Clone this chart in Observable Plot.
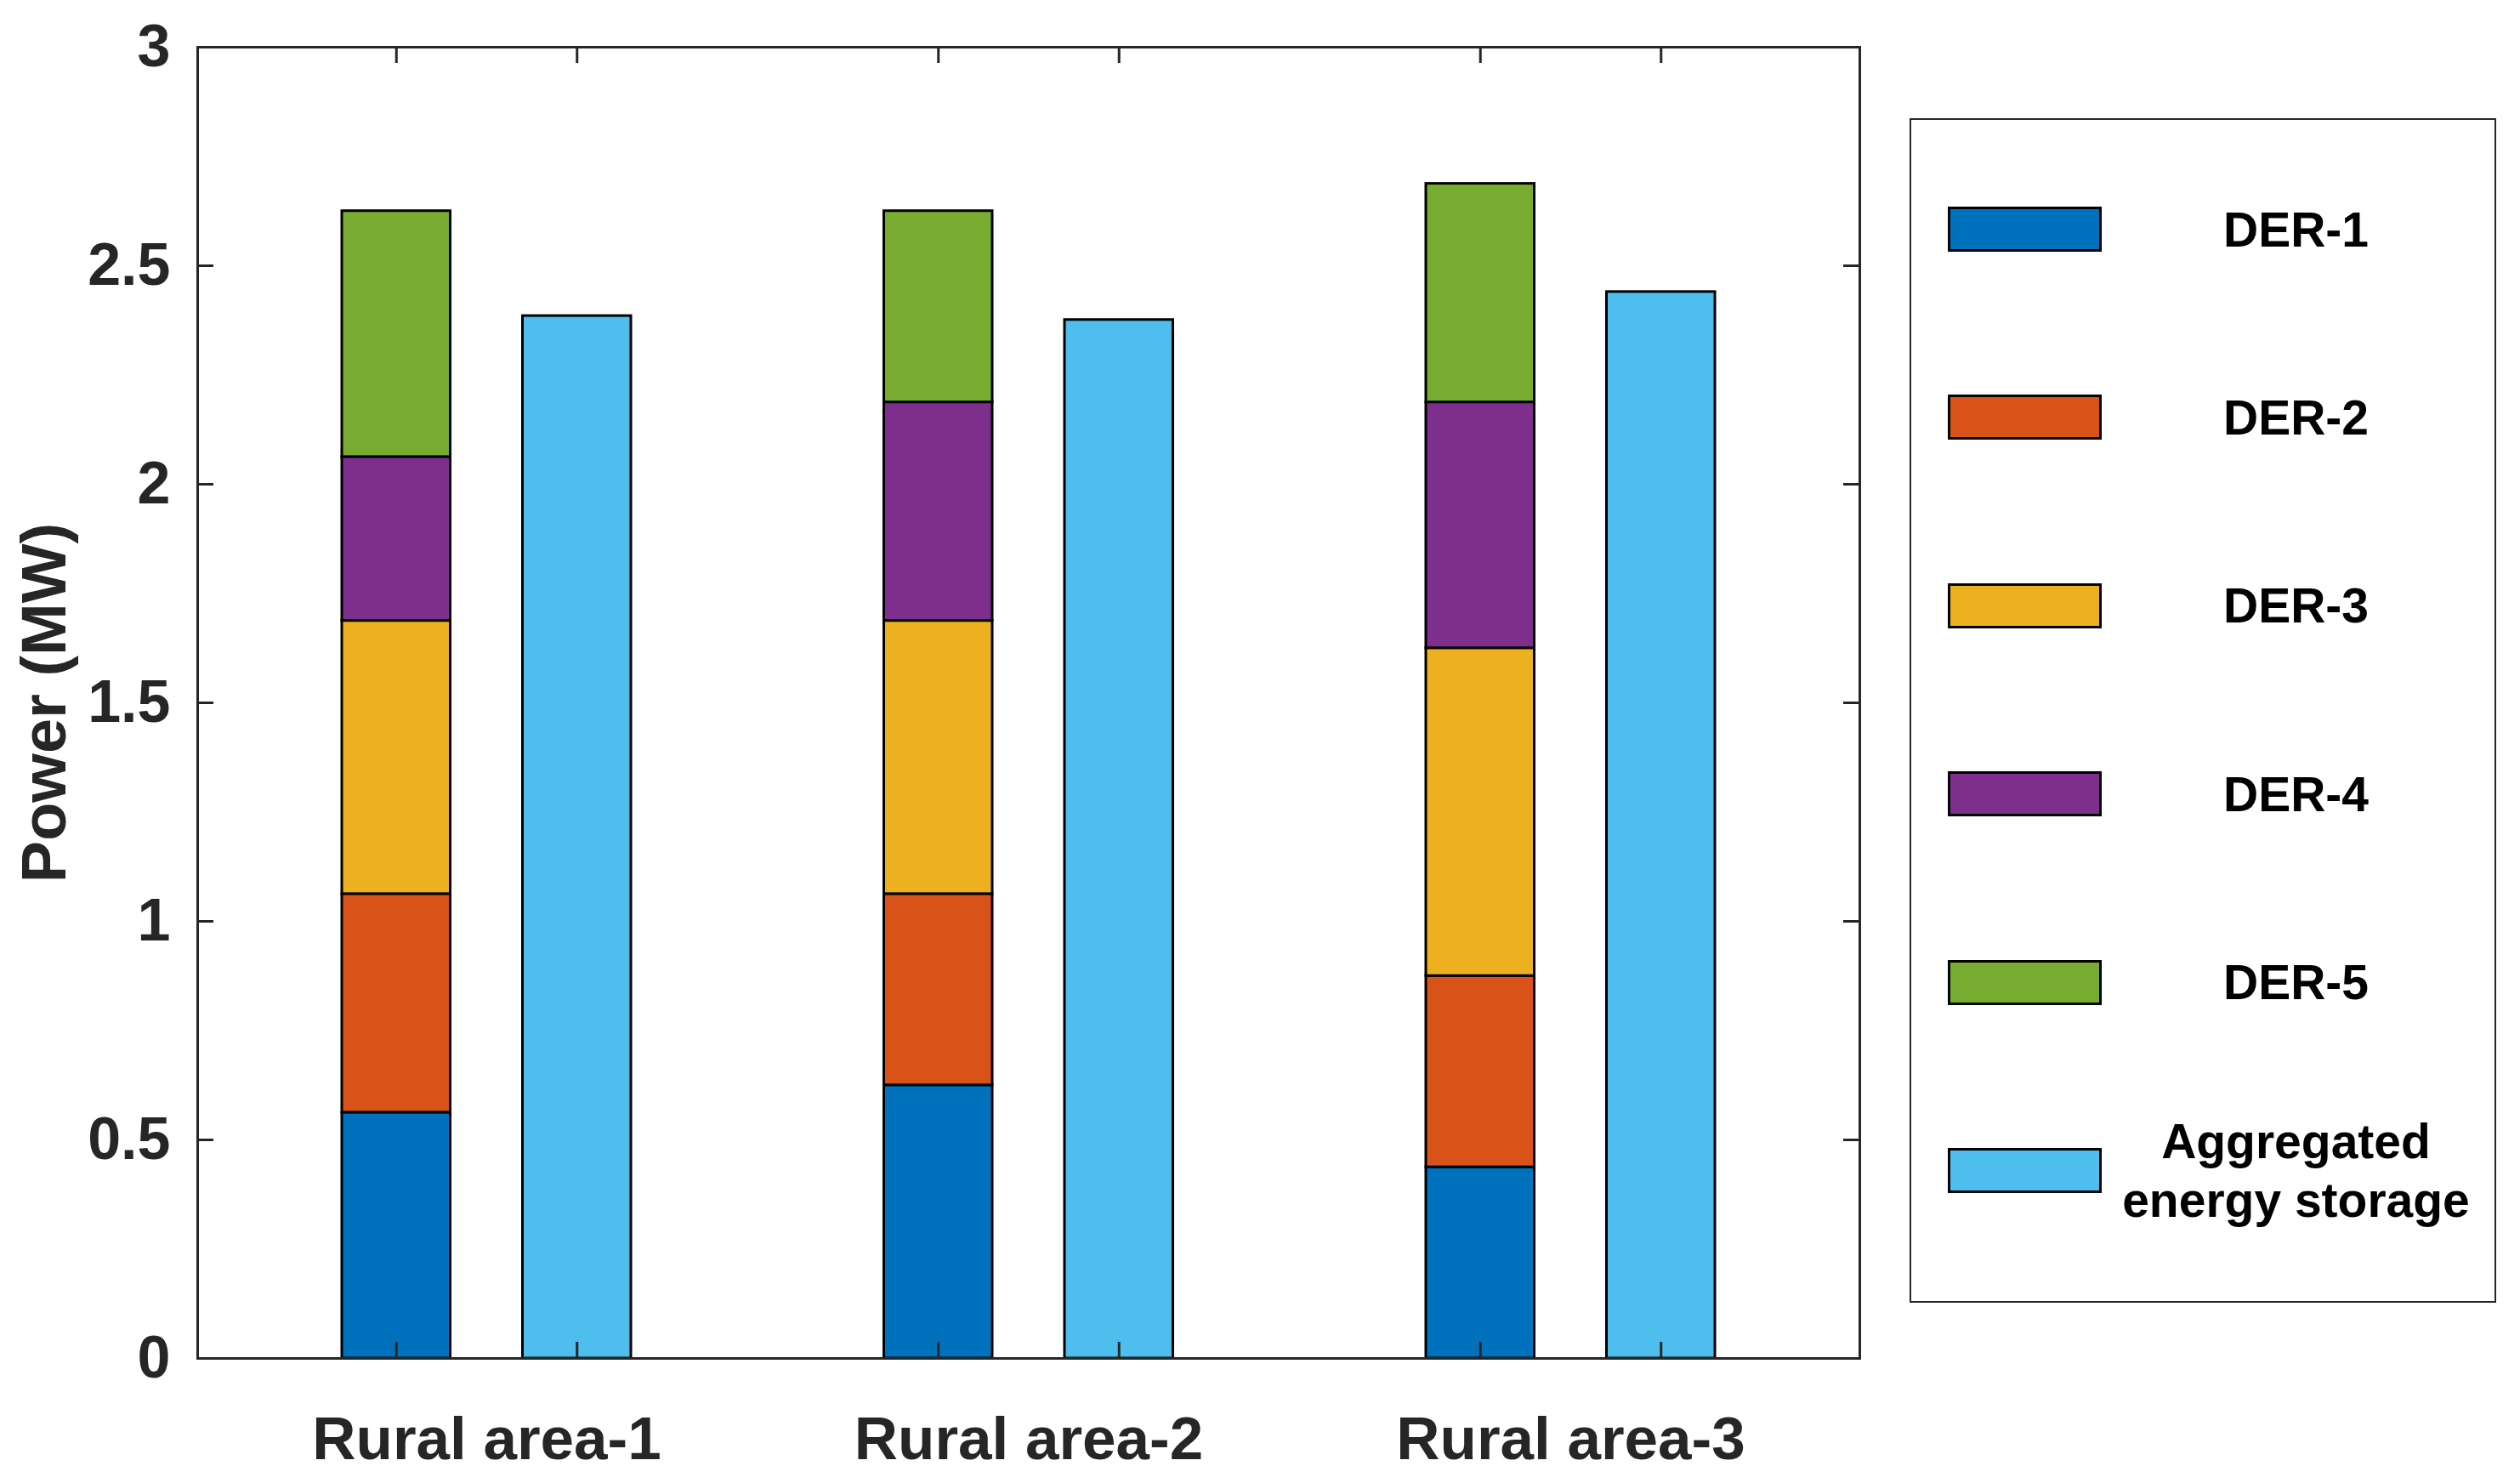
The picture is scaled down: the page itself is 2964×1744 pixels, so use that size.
<!DOCTYPE html>
<html>
<head>
<meta charset="utf-8">
<script src="https://cdn.jsdelivr.net/npm/d3@7"></script>
<script src="https://cdn.jsdelivr.net/npm/@observablehq/plot@0.6"></script>
<style>
  body { margin: 0; background: #fff; }
  #wrap { position: relative; width: 2964px; height: 1744px; font-family: "Liberation Sans", Arial, sans-serif; }
  #legend { position: absolute; left: 2246px; top: 139px; width: 690px; height: 1393px; border: 2.5px solid #262626; box-sizing: border-box; background: #fff; }
  .item { position: absolute; left: 0; width: 100%; height: 0; }
  .sw { position: absolute; left: 42.5px; width: 181px; height: 53px; top: -26.5px; border: 3px solid #000; box-sizing: border-box; }
  .lb { position: absolute; left: 152.5px; width: 600px; top: 0; transform: translateY(-50%); text-align: center; white-space: nowrap; font-weight: bold; font-size: 57px; line-height: 69px; color: #000; }
</style>
</head>
<body>
<div id="wrap"><div id="legend"></div></div>
<script>
// ---- data ----
const categories = ["Rural area-1", "Rural area-2", "Rural area-3"];
const seriesNames = ["DER-1", "DER-2", "DER-3", "DER-4", "DER-5"];
const der1 = [0.5625, 0.625, 0.4375];
const der2 = [0.5, 0.4375, 0.4375];
const der3 = [0.625, 0.625, 0.75];
const der4 = [0.375, 0.5, 0.5625];
const der5 = [0.5625, 0.4375, 0.5];
const storageName = "Aggregated energy storage";
const storage = [2.385, 2.376, 2.44];
const yTicks = [0, 0.5, 1, 1.5, 2, 2.5, 3];
const yTickLabels = ["0", "0.5", "1", "1.5", "2", "2.5", "3"];
const colors = ["#0072BD", "#D95319", "#EDB120", "#7E2F8E", "#77AC30", "#4DBEEE"];

// ---- build tables ----
const derValues = [der1, der2, der3, der4, der5];
// slot layout: each area occupies 3 units; stacked bar at 3i+1, storage at 3i+2
const stackRows = [];
seriesNames.forEach((s, k) => categories.forEach((c, i) => {
  stackRows.push({category: c, series: s, slot: 3 * i + 1, value: derValues[k][i]});
}));
const storageRows = categories.map((c, i) => ({category: c, series: storageName, slot: 3 * i + 2, value: storage[i]}));
const barSlots = [...stackRows.filter(d => d.series === seriesNames[0]).map(d => d.slot), ...storageRows.map(d => d.slot)].sort((a, b) => a - b);
const labelSlots = categories.map((c, i) => 3 * i + 1.5);
const half = 0.3;

const W = 2964, H = 1744;
const mL = 232, mR = 777, mT = 55, mB = 147;
const plotW = W - mL - mR, plotH = H - mT - mB;
const tick = 19;
const axisColor = "#262626";

const chart = Plot.plot({
  width: W, height: H,
  marginLeft: mL, marginRight: mR, marginTop: mT, marginBottom: mB,
  style: {fontFamily: '"Liberation Sans", Arial, sans-serif', background: "white", overflow: "visible"},
  x: {domain: [-0.1, 9.1], label: null},
  y: {domain: [0, 3], label: null},
  color: {domain: [...seriesNames, storageName], range: colors},
  marks: [
    Plot.rectY(stackRows, Plot.stackY({
      x1: d => d.slot - half, x2: d => d.slot + half, y: "value",
      fill: "series", stroke: "#000", strokeWidth: 3
    })),
    Plot.rectY(storageRows, {
      x1: d => d.slot - half, x2: d => d.slot + half, y1: 0, y2: "value",
      fill: "series", stroke: "#000", strokeWidth: 3
    }),
    Plot.frame({stroke: axisColor, strokeWidth: 3}),
    Plot.ruleX(barSlots, {insetTop: plotH - tick, stroke: axisColor, strokeWidth: 3}),
    Plot.ruleX(barSlots, {insetBottom: plotH - tick, stroke: axisColor, strokeWidth: 3}),
    Plot.ruleY(yTicks, {insetRight: plotW - tick, stroke: axisColor, strokeWidth: 3}),
    Plot.ruleY(yTicks, {insetLeft: plotW - tick, stroke: axisColor, strokeWidth: 3}),
    Plot.axisY({
      ticks: yTicks, tickSize: 0, tickPadding: 32, label: null,
      tickFormat: d => yTickLabels[yTicks.indexOf(d)],
      fontSize: 70, fontWeight: "bold", fill: axisColor
    }),
    Plot.axisX({
      ticks: labelSlots, tickSize: 0, tickPadding: 68, label: null,
      tickFormat: d => categories[labelSlots.indexOf(d)],
      fontSize: 71, fontWeight: "bold", fill: axisColor
    }),
    Plot.text(["Power (MW)"], {
      text: d => d, frameAnchor: "left", textAnchor: "middle", lineAnchor: "middle",
      dx: -179, rotate: -90,
      fontSize: 74, fontWeight: "bold", fill: axisColor
    })
  ]
});
document.getElementById("wrap").prepend(chart);

// ---- legend ----
const legend = document.getElementById("legend");
const legendNames = [...seriesNames, storageName];
const legendLabels = ["DER-1", "DER-2", "DER-3", "DER-4", "DER-5", "Aggregated<br>energy storage"];
legendNames.forEach((name, i) => {
  const item = document.createElement("div");
  item.className = "item";
  item.style.top = (128.5 + i * 221.4) + "px";
  const sw = document.createElement("div");
  sw.className = "sw";
  sw.style.background = colors[i];
  const lb = document.createElement("div");
  lb.className = "lb";
  lb.innerHTML = legendLabels[i];
  item.appendChild(sw);
  item.appendChild(lb);
  legend.appendChild(item);
});
</script>
</body>
</html>
